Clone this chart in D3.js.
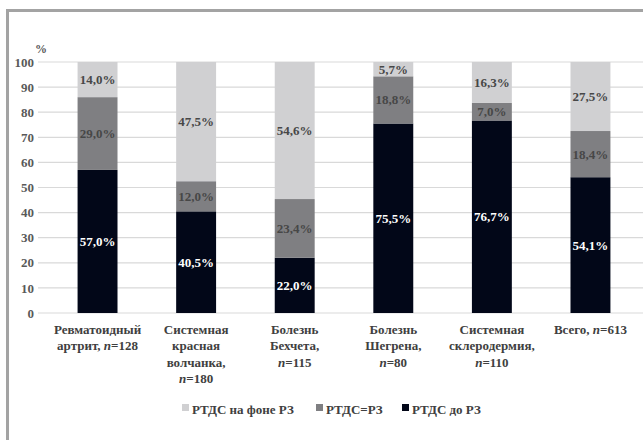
<!DOCTYPE html>
<html>
<head>
<meta charset="utf-8">
<script src="https://cdn.jsdelivr.net/npm/d3@7"></script>
<style>
  body { margin: 0; background: #fff; }
</style>
</head>
<body>
<svg id="chart" width="643" height="440"></svg>
<script>
// categories (lines of each label, text between | is italic)
var categories = [
  ["Ревматоидный", "артрит, |n|=128"],
  ["Системная", "красная", "волчанка,", "|n|=180"],
  ["Болезнь", "Бехчета,", "|n|=115"],
  ["Болезнь", "Шегрена,", "|n|=80"],
  ["Системная", "склеродермия,", "|n|=110"],
  ["Всего, |n|=613"]
];
var seriesNames = ["РТДС до РЗ", "РТДС=РЗ", "РТДС на фоне РЗ"];
var before = [57.0, 40.5, 22.0, 75.5, 76.7, 54.1];
var same = [29.0, 12.0, 23.4, 18.8, 7.0, 18.4];
var after = [14.0, 47.5, 54.6, 5.7, 16.3, 27.5];
var yTicks = [0, 10, 20, 30, 40, 50, 60, 70, 80, 90, 100];

var colors = ["#020718", "#7f7f82", "#d0d0d2"];
var labelColors = ["#ffffff", "#474747", "#474747"];
var FONT = "'Liberation Serif', 'Times New Roman', serif";

function drawChart(){
   var svg = d3.select("#chart");

   // outer frame (runs off the right and bottom)
   svg.append("rect")
      .attr("x", 7.5).attr("y", 10.5)
      .attr("width", 700).attr("height", 500)
      .attr("fill", "none").attr("stroke", "#a3a3a3").attr("stroke-width", 3);

   var plotLeft = 48, plotRight = 640, plotTop = 62, plotBottom = 313;

   var x = d3.scaleBand()
      .domain(d3.range(categories.length))
      .range([plotLeft, plotRight])
      .paddingInner(0.595).paddingOuter(0.3);

   var y = d3.scaleLinear().domain([0, 100]).range([plotBottom, plotTop]);

   //Gridlines
   svg.selectAll("line.grid")
      .data(yTicks)
      .enter()
      .append("line")
      .attr("class", "grid")
      .attr("x1", 38).attr("x2", 643)
      .attr("y1", function(d){ return y(d); })
      .attr("y2", function(d){ return y(d); })
      .attr("stroke", "#d9d9d9").attr("stroke-width", 1.2);

   //Y axis labels
   var yAxis = d3.axisLeft(y).tickValues(yTicks).tickSize(0).tickPadding(0);
   var yg = svg.append("g").attr("transform", "translate(34,0)").call(yAxis);
   yg.select(".domain").remove();
   yg.selectAll("text")
      .style("font-family", FONT).style("font-weight", "bold")
      .attr("font-size", 13).attr("fill", "#595959");

   svg.append("text")
      .attr("x", 41).attr("y", 53)
      .attr("text-anchor", "middle")
      .style("font-family", FONT).style("font-weight", "bold")
      .attr("font-size", 12).attr("fill", "#595959")
      .text("%");

   //Stack data
   var rows = categories.map(function(c, i){
      return {i: i, s0: before[i], s1: same[i], s2: after[i]};
   });
   var layers = d3.stack().keys(["s0", "s1", "s2"])(rows);

   layers.forEach(function(layer, li){
      svg.append("g").selectAll("rect")
         .data(layer)
         .enter()
         .append("rect")
         .attr("x", function(d){ return x(d.data.i); })
         .attr("y", function(d){ return y(d[1]); })
         .attr("width", x.bandwidth())
         .attr("height", function(d){ return y(d[0]) - y(d[1]); })
         .attr("fill", colors[li]);
   });

   //Segment labels
   layers.forEach(function(layer, li){
      svg.selectAll("text.seg" + li)
         .data(layer)
         .enter()
         .append("text")
         .attr("class", "seg" + li)
         .attr("x", function(d){ return x(d.data.i) + x.bandwidth() / 2; })
         .attr("y", function(d){ return y((d[0] + d[1]) / 2); })
         .attr("dy", "0.35em")
         .attr("text-anchor", "middle")
         .style("font-family", FONT).style("font-weight", "bold")
         .attr("font-size", 13)
         .attr("fill", labelColors[li])
         .text(function(d){ return (d[1] - d[0]).toFixed(1).replace(".", ",") + "%"; });
   });

   //Category labels
   svg.selectAll("text.cat")
      .data(categories)
      .enter()
      .append("text")
      .attr("class", "cat")
      .attr("text-anchor", "middle")
      .style("font-family", FONT).style("font-weight", "bold")
      .attr("font-size", 13)
      .attr("fill", "#404040")
      .each(function(lines, i){
         var t = d3.select(this);
         var cx = x(i) + x.bandwidth() / 2;
         lines.forEach(function(line, k){
            var lineSpan = t.append("tspan")
               .attr("x", cx)
               .attr("y", 334 + k * 16.3);
            line.split("|").forEach(function(p, pi){
               if (p === "") return;
               var ts = lineSpan.append("tspan").text(p);
               if (pi % 2 === 1) ts.style("font-style", "italic");
            });
         });
      });

   //Legend
   var legendItems = [
      {name: seriesNames[2], color: colors[2], x: 182},
      {name: seriesNames[1], color: colors[1], x: 316},
      {name: seriesNames[0], color: colors[0], x: 402}
   ];
   var leg = svg.selectAll("g.legend")
      .data(legendItems)
      .enter()
      .append("g")
      .attr("class", "legend")
      .attr("transform", function(d){ return "translate(" + d.x + ",410)"; });
   leg.append("rect")
      .attr("x", 0).attr("y", -6)
      .attr("width", 7).attr("height", 7)
      .attr("fill", function(d){ return d.color; });
   leg.append("text")
      .attr("x", 10).attr("y", 0)
      .attr("dy", "0.3em")
      .style("font-family", FONT).style("font-weight", "bold")
      .attr("font-size", 13)
      .attr("fill", "#404040")
      .text(function(d){ return d.name; });
}

drawChart();
</script>
</body>
</html>
